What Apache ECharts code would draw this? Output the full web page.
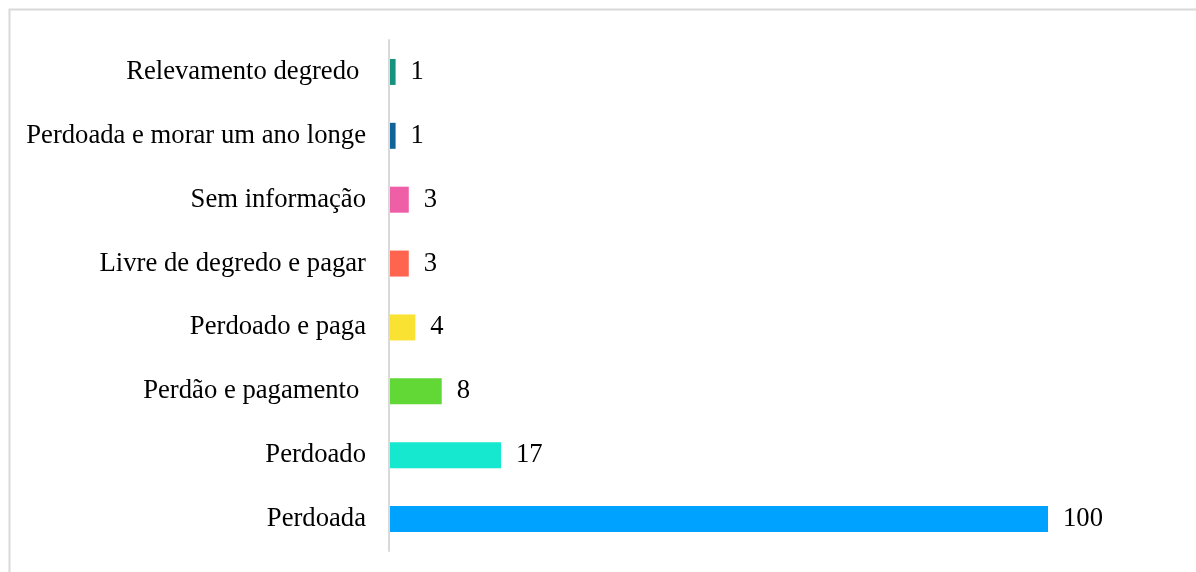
<!DOCTYPE html>
<html>
<head>
<meta charset="utf-8">
<script src="https://cdn.jsdelivr.net/npm/echarts@6/dist/echarts.min.js"></script>
<style>
  html, body { margin: 0; padding: 0; background: #ffffff; }
  #chart { width: 1196px; height: 572px; }
</style>
</head>
<body>
<div id="chart"></div>
<script>
// Outcomes, listed bottom to top
const categories = [
  'Perdoada',
  'Perdoado',
  'Perdão e pagamento ',
  'Perdoado e paga',
  'Livre de degredo e pagar',
  'Sem informação',
  'Perdoada e morar um ano longe',
  'Relevamento degredo '
];
const counts = [100, 17, 8, 4, 3, 3, 1, 1];
const barColors = ['#00A2FF', '#16E7CF', '#61D836', '#FAE232', '#FF644E', '#EF5FA7', '#0F6399', '#16927F'];

const fontFamily = '"Liberation Serif", "Times New Roman", serif';
const fontSize = 26.67; // 20pt

const chart = echarts.init(document.getElementById('chart'), null, { renderer: 'canvas' });

chart.setOption({
  animation: false,
  backgroundColor: '#ffffff',
  graphic: [{
    type: 'rect',
    shape: { x: 9.5, y: 9.5, width: 1400, height: 800 },
    style: { fill: null, stroke: '#d9d9d9', lineWidth: 2 },
    silent: true,
    z: -10
  }],
  grid: { left: 389, top: 40, width: 659, height: 511, containLabel: false },
  xAxis: {
    type: 'value',
    min: 0,
    max: 100,
    show: false
  },
  yAxis: {
    type: 'category',
    data: categories,
    z: 5,
    axisLine: { show: true, lineStyle: { color: '#d9d9d9', width: 2 } },
    axisTick: { show: false },
    axisLabel: {
      margin: 23,
      color: '#000000',
      fontFamily: fontFamily,
      fontSize: fontSize
    }
  },
  series: [{
    type: 'bar',
    barWidth: 26,
    data: counts.map((v, i) => ({ value: v, itemStyle: { color: barColors[i] } })),
    label: {
      show: true,
      position: 'right',
      distance: 15,
      color: '#000000',
      fontFamily: fontFamily,
      fontSize: fontSize
    }
  }]
});
</script>
</body>
</html>
